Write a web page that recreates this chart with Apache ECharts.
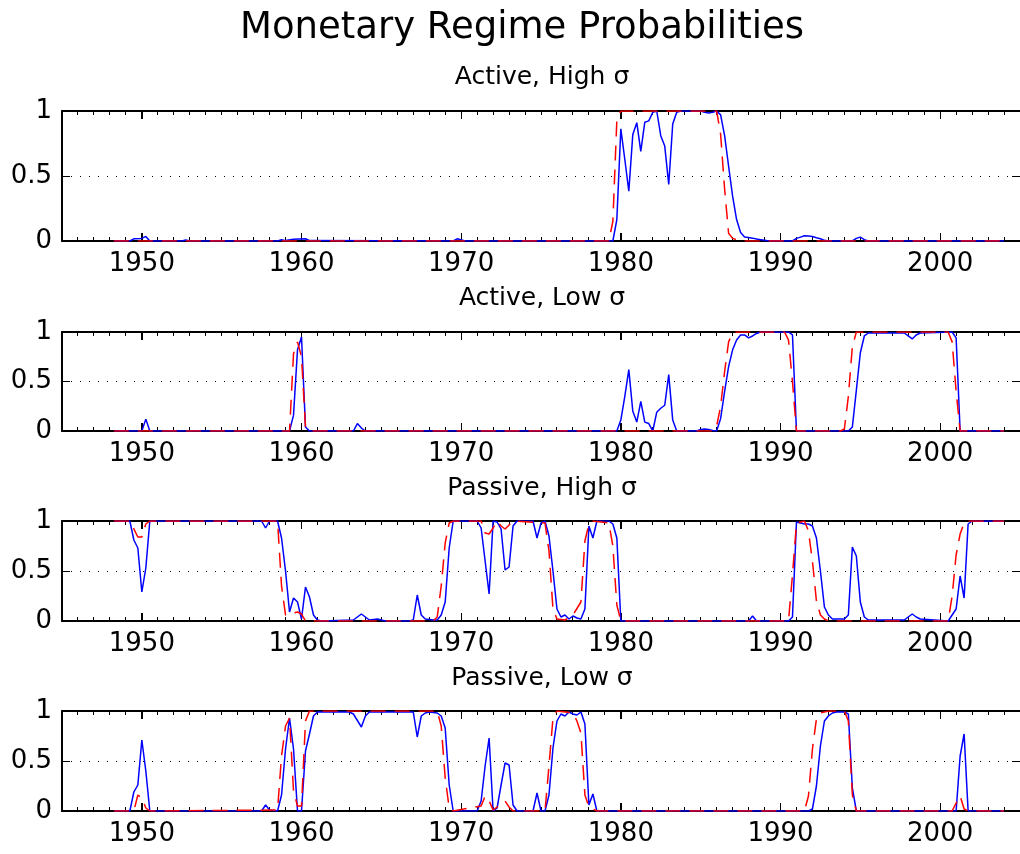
<!DOCTYPE html>
<html>
<head>
<meta charset="utf-8">
<script src="https://cdn.jsdelivr.net/npm/echarts@6/dist/echarts.min.js"></script>
<style>html,body{margin:0;padding:0;background:#fff}#c{width:1020px;height:854px}</style>
</head>
<body>
<div id="c"></div>
<script>
// ---------- data ----------
const mainTitle = 'Monetary Regime Probabilities';
const panelTitles = ['Active, High \u03c3', 'Active, Low \u03c3', 'Passive, High \u03c3', 'Passive, Low \u03c3'];
const xMin = 1945, xMax = 2005;
const xTickValues = [1950, 1960, 1970, 1980, 1990, 2000];
const yTickValues = [0, 0.5, 1];

const activeHighBlue = [[1948.25,0],[1949.25,0],[1949.5,0.017],[1950,0.02],[1950.25,0.035],[1950.5,0],[1952.5,0],[1952.75,0.008],[1953,0],[1958.5,0],[1958.75,0.01],[1959,0.003],[1959.5,0.014],[1960.25,0.017],[1960.5,0.003],[1969.5,0],[1969.75,0.017],[1970.25,0],[1979.5,0],[1979.75,0.165],[1980,0.863],[1980.25,0.627],[1980.5,0.383],[1980.75,0.82],[1981,0.91],[1981.25,0.69],[1981.5,0.914],[1981.75,0.924],[1982,0.99],[1982.25,1],[1982.5,0.81],[1982.75,0.73],[1983,0.435],[1983.25,0.9],[1983.5,0.99],[1983.75,1],[1985,1],[1985.25,0.99],[1985.5,0.985],[1985.75,0.99],[1986,1],[1986.25,0.97],[1986.5,0.81],[1986.75,0.575],[1987,0.345],[1987.25,0.165],[1987.5,0.065],[1987.75,0.03],[1988,0.027],[1988.25,0.022],[1988.5,0.015],[1988.75,0.01],[1989,0.005],[1989.25,0],[1990.75,0],[1991,0.02],[1991.25,0.03],[1991.5,0.04],[1991.75,0.038],[1992,0.035],[1992.25,0.025],[1992.5,0.017],[1992.75,0.005],[1993,0],[1994.5,0],[1994.75,0.02],[1995,0.03],[1995.25,0.01],[1995.5,0],[2004,0]];
const activeHighRed = [[1948.25,0],[1979.25,0],[1979.5,0.15],[1979.75,0.93],[1980,1],[1986,1],[1986.25,0.82],[1986.5,0.4],[1986.75,0.06],[1987,0.02],[1987.5,0],[2004,0]];

const activeLowBlue = [[1948.25,0],[1950,0],[1950.25,0.12],[1950.5,0],[1959.25,0],[1959.5,0.16],[1959.75,0.82],[1960,0.95],[1960.25,0.04],[1960.5,0],[1963.25,0],[1963.5,0.075],[1963.75,0.03],[1964,0],[1979.75,0],[1980,0.11],[1980.25,0.35],[1980.5,0.62],[1980.75,0.2],[1981,0.09],[1981.25,0.3],[1981.5,0.09],[1981.75,0.075],[1982,0],[1982.25,0.19],[1982.5,0.23],[1982.75,0.26],[1983,0.57],[1983.25,0.11],[1983.5,0],[1984.75,0],[1985,0.015],[1985.25,0.02],[1985.5,0.015],[1985.75,0.005],[1986,0],[1986.25,0.125],[1986.5,0.4],[1986.75,0.65],[1987,0.82],[1987.25,0.92],[1987.5,0.97],[1987.75,0.97],[1988,0.94],[1988.25,0.96],[1988.5,0.985],[1988.75,1],[1990.5,1],[1990.75,0.97],[1991,0],[1994.25,0],[1994.5,0.04],[1994.75,0.41],[1995,0.79],[1995.25,0.96],[1995.5,0.99],[1997.75,0.99],[1998,0.96],[1998.25,0.93],[1998.5,0.97],[1998.75,0.99],[2000.75,1],[2001,0.94],[2001.25,0],[2004,0]];
const activeLowRed = [[1948.25,0],[1959.25,0],[1959.5,0.78],[1959.75,0.9],[1960,0.75],[1960.25,0.04],[1960.5,0],[1985.75,0],[1986,0.05],[1986.25,0.25],[1986.5,0.6],[1986.75,0.9],[1987,0.99],[1987.25,1],[1990.25,1],[1990.5,0.92],[1990.75,0.5],[1991,0],[1993.75,0],[1994,0.02],[1994.25,0.35],[1994.5,0.85],[1994.75,1],[2000.5,1],[2000.75,0.9],[2001,0.4],[2001.25,0],[2004,0]];

const passiveHighBlue = [[1948.25,1],[1949.25,1],[1949.5,0.81],[1949.75,0.73],[1950,0.29],[1950.25,0.53],[1950.5,1],[1957.5,1],[1957.75,0.93],[1958,1],[1958.5,1],[1958.75,0.83],[1959,0.5],[1959.25,0.09],[1959.5,0.23],[1959.75,0.19],[1960,0.02],[1960.25,0.34],[1960.5,0.24],[1960.75,0.06],[1961,0.01],[1961.25,0],[1963.25,0.01],[1963.75,0.07],[1964.25,0.01],[1964.75,0.02],[1965.25,0],[1966.75,0],[1967,0.01],[1967.25,0.26],[1967.5,0.06],[1967.75,0.02],[1968.25,0.01],[1968.5,0.01],[1968.75,0.06],[1969,0.19],[1969.25,0.73],[1969.5,1],[1971,1],[1971.25,0.93],[1971.75,0.27],[1972,1],[1972.25,0.99],[1972.5,0.92],[1972.75,0.51],[1973,0.54],[1973.25,0.95],[1973.5,1],[1974.5,1],[1974.75,0.83],[1975,0.98],[1975.25,1],[1975.5,0.85],[1975.75,0.5],[1976,0.12],[1976.25,0.04],[1976.5,0.06],[1976.75,0.02],[1977,0.05],[1977.25,0.03],[1977.5,0.02],[1977.75,0.12],[1978,0.95],[1978.25,0.83],[1978.5,1],[1979.25,1],[1979.5,0.97],[1979.75,0.83],[1980,0],[1988,0],[1988.25,0.05],[1988.5,0],[1990.5,0],[1990.75,0.04],[1991,0.99],[1991.25,0.98],[1991.5,0.97],[1991.75,0.97],[1992,0.95],[1992.25,0.83],[1992.5,0.5],[1992.75,0.14],[1993,0.06],[1993.25,0.02],[1994,0.02],[1994.25,0.06],[1994.5,0.74],[1994.75,0.65],[1995,0.19],[1995.25,0.04],[1995.5,0.01],[1997.75,0.01],[1998.25,0.07],[1998.5,0.04],[1998.75,0.02],[2000.5,0],[2000.75,0.06],[2001,0.12],[2001.25,0.45],[2001.5,0.23],[2001.75,0.97],[2002,1],[2004,1]];
const passiveHighRed = [[1948.25,1],[1949.25,1],[1949.75,0.84],[1950,0.84],[1950.25,0.97],[1950.5,1],[1958.5,1],[1958.75,0.35],[1959,0.06],[1959.25,0.06],[1959.5,0.08],[1959.75,0.09],[1960,0.07],[1960.25,0],[1968.25,0],[1968.5,0.04],[1968.75,0.35],[1969,0.78],[1969.25,0.98],[1969.5,1],[1971.25,1],[1971.5,0.88],[1971.75,0.87],[1972,0.93],[1972.25,1],[1972.5,0.95],[1972.75,0.92],[1973,0.96],[1973.25,1],[1975.25,0.98],[1975.5,0.7],[1975.75,0.12],[1976,0.02],[1976.5,0.01],[1977,0.06],[1977.5,0.19],[1977.75,0.8],[1978,0.97],[1978.25,1],[1979.25,0.98],[1979.5,0.75],[1979.75,0.16],[1980,0],[1990.5,0],[1990.75,0.46],[1991,0.98],[1991.5,1],[1991.75,0.9],[1992,0.6],[1992.25,0.2],[1992.5,0.06],[1992.75,0.02],[1993,0],[2000.5,0],[2000.75,0.25],[2001,0.66],[2001.25,0.87],[2001.5,0.98],[2001.75,1],[2004,1]];

const passiveLowBlue = [[1948.25,0],[1949.25,0],[1949.5,0.19],[1949.75,0.26],[1950,0.71],[1950.25,0.4],[1950.5,0],[1957.5,0],[1957.75,0.06],[1958,0.01],[1958.5,0],[1958.75,0.16],[1959,0.62],[1959.25,0.93],[1959.5,0.62],[1959.75,0],[1960,0],[1960.25,0.6],[1960.5,0.77],[1960.75,0.95],[1961,0.99],[1963,0.99],[1963.25,0.97],[1963.75,0.84],[1964,0.95],[1964.25,0.99],[1967,0.99],[1967.25,0.74],[1967.5,0.95],[1967.75,0.98],[1968,0.99],[1968.5,0.98],[1968.75,0.95],[1969,0.83],[1969.25,0.26],[1969.5,0],[1971,0],[1971.25,0.1],[1971.5,0.45],[1971.75,0.73],[1972,0],[1972.25,0.03],[1972.5,0.26],[1972.75,0.48],[1973,0.46],[1973.25,0.06],[1973.5,0],[1974.5,0],[1974.75,0.18],[1975,0],[1975.25,0],[1975.5,0.16],[1975.75,0.63],[1976,0.9],[1976.25,0.97],[1976.5,0.95],[1976.75,0.99],[1977,0.97],[1977.25,0.96],[1977.5,0.99],[1977.75,0.87],[1978,0.06],[1978.25,0.17],[1978.5,0],[1991.75,0],[1992,0.02],[1992.25,0.25],[1992.5,0.65],[1992.75,0.9],[1993,0.95],[1993.25,0.98],[1993.5,0.99],[1994,0.99],[1994.25,0.97],[1994.5,0.23],[1994.75,0],[2001,0],[2001.25,0.55],[2001.5,0.77],[2001.75,0],[2004,0]];
const passiveLowRed = [[1948.25,0],[1949.5,0],[1949.75,0.16],[1950,0.13],[1950.25,0.03],[1950.5,0],[1958.5,0.01],[1958.75,0.55],[1959,0.85],[1959.25,0.93],[1959.5,0.2],[1959.75,0.05],[1960,0.05],[1960.25,0.9],[1960.5,1],[1968.5,1],[1968.75,0.85],[1969,0.33],[1969.25,0.03],[1969.5,0],[1971.25,0.05],[1971.5,0.15],[1971.75,0.1],[1972,0.01],[1972.25,0.04],[1972.5,0.08],[1972.75,0.1],[1973,0.04],[1973.25,0],[1975.25,0],[1975.5,0.45],[1975.75,0.93],[1976,1],[1977,0.98],[1977.25,0.9],[1977.5,0.78],[1977.75,0.16],[1978,0.04],[1978.5,0],[1991.5,0],[1991.75,0.15],[1992,0.62],[1992.25,0.92],[1992.5,0.98],[1993,1],[1994,1],[1994.25,0.9],[1994.5,0.16],[1994.75,0],[2000.75,0],[2001,0.08],[2001.25,0.15],[2001.5,0.02],[2001.75,0],[2004,0]];

const blueSeries = [activeHighBlue, activeLowBlue, passiveHighBlue, passiveLowBlue];
const redSeries = [activeHighRed, activeLowRed, passiveHighRed, passiveLowRed];

// ---------- layout / style ----------
const FONT = 'DejaVu Sans';
const TICK_FS = 26;
const gridBoxes = [
  {left: 62, top: 111, width: 960, height: 130},
  {left: 62, top: 332, width: 960, height: 99},
  {left: 62, top: 521, width: 960, height: 100},
  {left: 62, top: 711, width: 960, height: 100}
];
const subTitleY = [77, 298, 488, 678];
const frameLine = {show: true, onZero: false, lineStyle: {color: '#000', width: 2}};
const tickLine = {color: '#000', width: 1};

// yearly tick positions (axis decoration, one per year between the axis limits)
const minorYears = [];
for (let yr = xMin + 1; yr < xMax; yr++) minorYears.push(yr);

const grid = [], xAxis = [], yAxis = [], series = [], graphic = [];
graphic.push({type: 'text', x: 522, y: 28, style: {text: mainTitle, fill: '#000', fontSize: 37, fontFamily: FONT, align: 'center', verticalAlign: 'middle'}});

function crisp(v) { return Math.round(v - 0.5) + 0.5; }

gridBoxes.forEach((g, i) => {
  grid.push(Object.assign({}, g));
  graphic.push({type: 'text', x: 542, y: subTitleY[i], style: {text: panelTitles[i], fill: '#000', fontSize: 25, fontFamily: FONT, align: 'center', verticalAlign: 'middle'}});
  const xi = xAxis.length;
  xAxis.push({
    gridIndex: i, type: 'value', position: 'bottom', min: xMin, max: xMax,
    axisLine: frameLine, splitLine: {show: false},
    axisTick: {show: true, inside: true, length: 8, customValues: xTickValues, lineStyle: tickLine},
    axisLabel: {show: true, customValues: xTickValues, formatter: v => String(v), color: '#000', fontSize: TICK_FS, fontFamily: FONT, margin: 10}
  });
  xAxis.push({
    gridIndex: i, type: 'value', position: 'top', min: xMin, max: xMax,
    axisLine: frameLine, splitLine: {show: false}, axisLabel: {show: false},
    axisTick: {show: true, inside: true, length: 8, customValues: xTickValues, lineStyle: tickLine}
  });
  const yi = yAxis.length;
  yAxis.push({
    gridIndex: i, type: 'value', position: 'left', min: 0, max: 1, interval: 0.5,
    axisLine: frameLine,
    axisTick: {show: true, inside: true, length: 8, lineStyle: tickLine},
    axisLabel: {show: true, formatter: v => String(v), color: '#000', fontSize: TICK_FS, fontFamily: FONT, margin: 10},
    splitLine: {show: true, lineStyle: {color: '#000', width: 1, type: [1, 8]}}
  });
  series.push({
    type: 'line', xAxisIndex: xi, yAxisIndex: yi, data: blueSeries[i],
    showSymbol: false, lineStyle: {color: '#0000ff', width: 1.5}
  });
  series.push({
    type: 'line', xAxisIndex: xi, yAxisIndex: yi, data: redSeries[i],
    showSymbol: false, lineStyle: {color: '#ff0000', width: 1.5, type: [15, 9]}
  });
  // x-axis tick marks (bottom and top edges), drawn through the axis scale
  series.push({
    type: 'custom', xAxisIndex: xi, yAxisIndex: yi, silent: true, clip: false, z: 1,
    encode: {x: 0, y: 1},
    data: minorYears.map(yr => [yr, 0]),
    renderItem: (params, api) => {
      const v = api.value(0);
      const len = xTickValues.indexOf(v) >= 0 ? 8 : 4;
      const b = api.coord([v, 0]);
      const t = api.coord([v, 1]);
      const x = crisp(b[0]);
      return {type: 'group', children: [
        {type: 'line', shape: {x1: x, y1: b[1], x2: x, y2: b[1] - len}, style: {stroke: '#000', lineWidth: 1}},
        {type: 'line', shape: {x1: x, y1: t[1], x2: x, y2: t[1] + len}, style: {stroke: '#000', lineWidth: 1}}
      ]};
    }
  });
  // y-axis tick marks (left and right edges)
  series.push({
    type: 'custom', xAxisIndex: xi, yAxisIndex: yi, silent: true, clip: false, z: 1,
    encode: {x: 0, y: 1},
    data: yTickValues.map(v => [xMin, v]),
    renderItem: (params, api) => {
      const v = api.value(1);
      const l = api.coord([xMin, v]);
      const r = api.coord([xMax, v]);
      const y = crisp(l[1]);
      return {type: 'group', children: [
        {type: 'line', shape: {x1: l[0], y1: y, x2: l[0] + 8, y2: y}, style: {stroke: '#000', lineWidth: 1}},
        {type: 'line', shape: {x1: r[0], y1: y, x2: r[0] - 8, y2: y}, style: {stroke: '#000', lineWidth: 1}}
      ]};
    }
  });
});

const chart = echarts.init(document.getElementById('c'));
chart.setOption({animation: false, grid, xAxis, yAxis, series, graphic});
</script>
</body>
</html>
